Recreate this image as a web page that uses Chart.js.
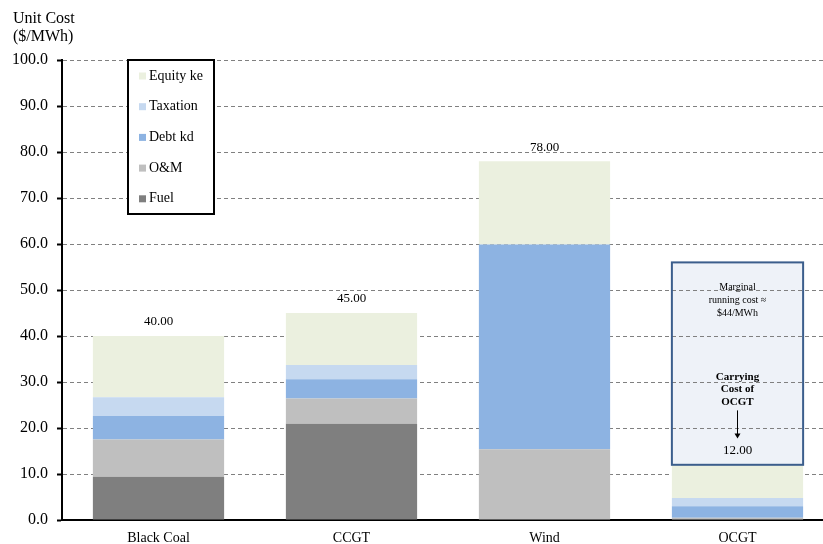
<!DOCTYPE html>
<html>
<head>
<meta charset="utf-8">
<script src="https://cdn.jsdelivr.net/npm/chart.js@4.4.1/dist/chart.umd.min.js"></script>
<style>
  html, body { margin: 0; padding: 0; background: #fff; overflow: hidden; }
  #wrap { width: 834px; height: 544px; }
</style>
</head>
<body>
<div id="wrap"><canvas id="costChart" width="834" height="544"></canvas></div>
<script>
// unit cost build-up by technology, $/MWh
const categories = ['Black Coal', 'CCGT', 'Wind', 'OCGT'];
const fuel   = [9.4, 20.9, 0, 0];
const om     = [8.1, 5.5, 15.4, 0.5];
const debtKd = [5.1, 4.2, 44.5, 2.5];
const tax    = [4.1, 3.1, 0, 1.8];
const equity = [13.3, 11.3, 18.1, 7.2];
const ocgtMarginal = 44;   // running cost sitting on top of the OCGT carrying cost

const serif = "'Liberation Serif', 'Times New Roman', serif";

const totals = categories.map((c, i) => fuel[i] + om[i] + debtKd[i] + tax[i] + equity[i]);

function ocgtBox(chart) {
  const bar = chart.getDatasetMeta(0).data[3];
  const y = chart.scales.y;
  return {
    cx: bar.x,
    left: bar.x - bar.width / 2,
    right: bar.x + bar.width / 2,
    top: y.getPixelForValue(totals[3] + ocgtMarginal),
    bottom: y.getPixelForValue(totals[3])
  };
}

const notes = {
  id: 'notes',
  beforeDraw(chart) {
    // box fill goes first so the grid shows through it
    const ctx = chart.ctx;
    const b = ocgtBox(chart);
    ctx.save();
    ctx.fillStyle = '#eef2f8';
    ctx.fillRect(b.left, b.top, b.right - b.left, b.bottom - b.top);
    ctx.restore();
  },
  afterDatasetsDraw(chart) {
    const ctx = chart.ctx;
    const y = chart.scales.y;
    const meta = chart.getDatasetMeta(0);
    ctx.save();
    ctx.fillStyle = '#000';
    ctx.textAlign = 'center';
    ctx.textBaseline = 'middle';
    ctx.font = '13px ' + serif;
    totals.forEach((t, i) => {
      ctx.fillText(t.toFixed(2), meta.data[i].x, y.getPixelForValue(t) - 14);
    });

    const b = ocgtBox(chart);
    ctx.strokeStyle = '#3b5e8c';
    ctx.lineWidth = 2;
    ctx.strokeRect(b.left, b.top, b.right - b.left, b.bottom - b.top);

    ctx.font = '10px ' + serif;
    ctx.fillText('Marginal', b.cx, b.top + 25);
    ctx.fillText('running cost \u2248', b.cx, b.top + 38);
    ctx.fillText('$' + ocgtMarginal + '/MWh', b.cx, b.top + 51);

    ctx.font = 'bold 11px ' + serif;
    ctx.fillText('Carrying', b.cx, b.top + 115);
    ctx.fillText('Cost of', b.cx, b.top + 127);
    ctx.fillText('OCGT', b.cx, b.top + 140);

    // arrow down to the total
    const tip = b.top + 176;
    ctx.strokeStyle = '#000';
    ctx.lineWidth = 1;
    ctx.beginPath();
    ctx.moveTo(b.cx, b.top + 148);
    ctx.lineTo(b.cx, tip - 4);
    ctx.stroke();
    ctx.beginPath();
    ctx.moveTo(b.cx - 3, tip - 5);
    ctx.lineTo(b.cx + 3, tip - 5);
    ctx.lineTo(b.cx, tip);
    ctx.closePath();
    ctx.fill();
    ctx.restore();
  },
  afterDraw(chart) {
    const ctx = chart.ctx;
    const area = chart.chartArea;
    ctx.save();
    ctx.fillStyle = '#000';
    ctx.font = '16px ' + serif;
    ctx.textBaseline = 'alphabetic';
    ctx.fillText('Unit Cost', 13, 23);
    ctx.fillText('($/MWh)', 13, 41);

    // legend box, top series first
    const lx = area.left + 66, ly = area.top;
    ctx.strokeStyle = '#000';
    ctx.lineWidth = 2;
    ctx.fillStyle = '#fff';
    ctx.fillRect(lx, ly, 86, 154);
    ctx.strokeRect(lx, ly, 86, 154);
    ctx.font = '14px ' + serif;
    ctx.textBaseline = 'middle';
    const sets = chart.data.datasets.slice().reverse();
    sets.forEach((ds, i) => {
      const cy = ly + 16 + i * 30.7;
      ctx.fillStyle = ds.backgroundColor;
      ctx.fillRect(lx + 11, cy - 3.5, 7, 7);
      ctx.fillStyle = '#000';
      ctx.fillText(ds.label, lx + 21, cy);
    });
    ctx.restore();
  }
};

new Chart(document.getElementById('costChart'), {
  type: 'bar',
  data: {
    labels: categories,
    datasets: [
      { label: 'Fuel', data: fuel, backgroundColor: '#7f7f7f' },
      { label: 'O&M', data: om, backgroundColor: '#bfbfbf' },
      { label: 'Debt kd', data: debtKd, backgroundColor: '#8db3e2' },
      { label: 'Taxation', data: tax, backgroundColor: '#c6d9f0' },
      { label: 'Equity ke', data: equity, backgroundColor: '#ebf0df' }
    ]
  },
  options: {
    responsive: false,
    animation: false,
    events: [],
    layout: { padding: { top: 60, left: 0, right: 0, bottom: 0 } },
    datasets: { bar: { barPercentage: 0.68, categoryPercentage: 1, borderWidth: 0 } },
    plugins: { legend: { display: false }, tooltip: { enabled: false } },
    scales: {
      x: {
        stacked: true,
        grid: { display: false, drawTicks: false },
        border: { display: true, color: '#000', width: 2 },
        ticks: { color: '#000', font: { family: serif, size: 14 }, padding: 10 },
        afterFit(s) { s.height = 24; }
      },
      y: {
        stacked: true,
        min: 0,
        max: 100,
        ticks: {
          stepSize: 10,
          color: '#000',
          padding: 9,
          font: { family: serif, size: 16 },
          callback: v => v.toFixed(1)
        },
        grid: { color: '#808080', lineWidth: 1, tickColor: '#000', tickWidth: 2, tickLength: 5 },
        border: { display: true, color: '#000', width: 2, dash: [4, 3] },
        afterFit(s) { s.width = 62; }
      }
    }
  },
  plugins: [notes]
});
</script>
</body>
</html>
